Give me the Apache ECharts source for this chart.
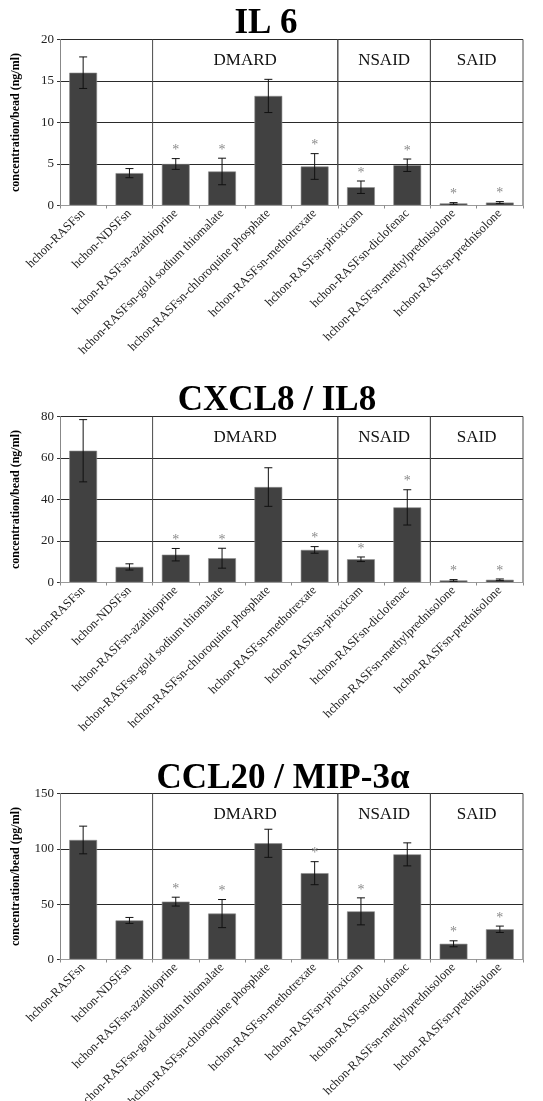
<!DOCTYPE html>
<html>
<head>
<meta charset="utf-8">
<script src="https://cdn.jsdelivr.net/npm/echarts@6/dist/echarts.min.js"></script>
<style>
  html, body { margin: 0; padding: 0; background: #fff; }
  #chart { width: 543px; height: 1101px; }
</style>
</head>
<body>
<div id="chart"></div>
<script>
// Conditions (shared by all three panels)
const categories = [
  'hchon-RASFsn',
  'hchon-NDSFsn',
  'hchon-RASFsn-azathioprine',
  'hchon-RASFsn-gold sodium thiomalate',
  'hchon-RASFsn-chloroquine phosphate',
  'hchon-RASFsn-methotrexate',
  'hchon-RASFsn-piroxicam',
  'hchon-RASFsn-diclofenac',
  'hchon-RASFsn-methylprednisolone',
  'hchon-RASFsn-prednisolone'
];

// Drug classes: first and last condition index of each bracket
const groupNames = ['DMARD', 'NSAID', 'SAID'];
const groupStart = [2, 6, 8];
const groupEnd = [5, 7, 9];

// IL 6 (ng/ml)
const il6Mean = [16.0, 3.9, 5.0, 4.1, 13.2, 4.7, 2.2, 4.85, 0.25, 0.35];
const il6Err = [1.9, 0.55, 0.65, 1.6, 2.0, 1.55, 0.75, 0.75, 0.1, 0.12];
const il6Sig = [0, 0, 1, 1, 0, 1, 1, 1, 1, 1];

// CXCL8 / IL8 (ng/ml)
const il8Mean = [63.5, 7.5, 13.4, 11.7, 46.0, 15.7, 11.2, 36.2, 1.0, 1.3];
const il8Err = [15.0, 1.5, 3.0, 4.8, 9.3, 1.6, 1.1, 8.5, 0.4, 0.4];
const il8Sig = [0, 0, 1, 1, 0, 1, 1, 1, 1, 1];

// CCL20 / MIP-3α (pg/ml)
const ccl20Mean = [108, 35.3, 52.3, 41.5, 105, 78, 43.5, 95, 14.2, 27.3];
const ccl20Err = [12.5, 2.7, 4.0, 12.7, 12.7, 10.4, 12.2, 10.4, 2.7, 2.9];
const ccl20Sig = [0, 0, 1, 1, 0, 1, 1, 0, 1, 1];

// Axis settings per panel
const panelTitles = ['IL 6', 'CXCL8 / IL8', 'CCL20 / MIP-3α'];
const yNames = ['concentration/bead (ng/ml)', 'concentration/bead (ng/ml)', 'concentration/bead (pg/ml)'];
const yMax = [20, 80, 150];
const yStep = [5, 20, 50];

const SERIF = '"Liberation Serif", "Times New Roman", serif';
const panels = [
  { mean: il6Mean, err: il6Err, sig: il6Sig },
  { mean: il8Mean, err: il8Err, sig: il8Sig },
  { mean: ccl20Mean, err: ccl20Err, sig: ccl20Sig }
];

// layout of the three plot areas
const gridTop = [39.5, 416.5, 793.5];
const gridHeight = 166;
const titleX = [266, 277, 283];
const titleTop = [6, 383, 761];

const grids = [], xAxes = [], yAxes = [], series = [], titles = [];

panels.forEach((p, k) => {
  grids.push({
    left: 60, right: 20, top: gridTop[k], height: gridHeight,
    containLabel: false, outerBoundsMode: 'none'
  });

  titles.push({
    text: panelTitles[k],
    left: titleX[k], top: titleTop[k], textAlign: 'center', padding: 0,
    textStyle: { fontFamily: SERIF, fontWeight: 'bold', fontSize: 35, color: '#000' }
  });

  xAxes.push({
    type: 'category', gridIndex: k, data: categories,
    axisLine: { show: true, lineStyle: { color: '#9a9a9a', width: 1 } },
    axisTick: { show: true, length: 3, lineStyle: { color: '#8a8a8a' } },
    axisLabel: {
      rotate: 45, interval: 0, margin: 6,
      fontFamily: SERIF, fontSize: 12.5, color: '#222'
    },
    splitLine: { show: false },
    z: 5
  });

  yAxes.push({
    type: 'value', gridIndex: k, min: 0, max: yMax[k], interval: yStep[k],
    name: yNames[k], nameLocation: 'middle', nameGap: 38,
    nameTextStyle: { fontFamily: SERIF, fontWeight: 'bold', fontSize: 12, color: '#000' },
    axisLine: { show: true, lineStyle: { color: '#888', width: 1 } },
    axisTick: { show: true, length: 3, lineStyle: { color: '#333' } },
    axisLabel: { fontFamily: SERIF, fontSize: 13, color: '#222', margin: 6 },
    splitLine: { show: true, lineStyle: { color: '#2a2a2a', width: 1 } }
  });

  // bars
  series.push({
    type: 'bar', xAxisIndex: k, yAxisIndex: k,
    data: p.mean, barWidth: '60%',
    itemStyle: { color: '#414141', borderColor: '#8c8c8c', borderWidth: 0.6 },
    z: 3
  });

  // error bars and significance marks
  series.push({
    type: 'custom', xAxisIndex: k, yAxisIndex: k,
    data: p.mean.map((m, i) => [i, m, p.err[i], p.sig[i]]),
    encode: { x: 0, y: 1 },
    z: 6,
    renderItem: (params, api) => {
      const i = api.value(0), m = api.value(1), e = api.value(2), s = api.value(3);
      const top = api.coord([i, m + e]);
      const bot = api.coord([i, m - e]);
      const cap = 4;
      const children = [
        { type: 'line', shape: { x1: top[0], y1: top[1], x2: bot[0], y2: bot[1] }, style: { stroke: '#111', lineWidth: 1 } },
        { type: 'line', shape: { x1: top[0] - cap, y1: top[1], x2: top[0] + cap, y2: top[1] }, style: { stroke: '#111', lineWidth: 1 } },
        { type: 'line', shape: { x1: bot[0] - cap, y1: bot[1], x2: bot[0] + cap, y2: bot[1] }, style: { stroke: '#111', lineWidth: 1 } }
      ];
      if (s) {
        children.push({
          type: 'text', x: top[0], y: top[1] - 1,
          style: { text: '*', fill: '#8a8a8a', font: '14px ' + SERIF, align: 'center', verticalAlign: 'bottom' }
        });
      }
      return { type: 'group', children };
    }
  });

  // drug class brackets: dividers plus class name in the top band
  series.push({
    type: 'custom', xAxisIndex: k, yAxisIndex: k,
    data: groupStart.map((g, j) => [g, groupEnd[j]]),
    encode: { x: [0, 1] },
    z: 4, silent: true,
    renderItem: (params, api) => {
      const a = api.value(0), b = api.value(1);
      const bw = api.size([1, 0])[0];
      const left = api.coord([a, 0])[0] - bw / 2;
      const right = api.coord([b, 0])[0] + bw / 2;
      const y0 = api.coord([a, 0])[1];
      const y1 = api.coord([a, yMax[k]])[1];
      const yLab = api.coord([a, yMax[k] * 7 / 8])[1];
      return {
        type: 'group',
        children: [
          { type: 'line', shape: { x1: left, y1: y1, x2: left, y2: y0 }, style: { stroke: '#4a4a4a', lineWidth: 1 } },
          { type: 'line', shape: { x1: right, y1: y1, x2: right, y2: y0 }, style: { stroke: '#4a4a4a', lineWidth: 1 } },
          { type: 'text', x: (left + right) / 2, y: yLab,
            style: { text: groupNames[params.dataIndex], fill: '#111', font: '17px ' + SERIF, align: 'center', verticalAlign: 'middle' } }
        ]
      };
    }
  });
});

const chart = echarts.init(document.getElementById('chart'), null, { renderer: 'canvas' });
chart.setOption({
  animation: false,
  backgroundColor: '#fff',
  title: titles,
  grid: grids,
  xAxis: xAxes,
  yAxis: yAxes,
  series: series
});
</script>
</body>
</html>
